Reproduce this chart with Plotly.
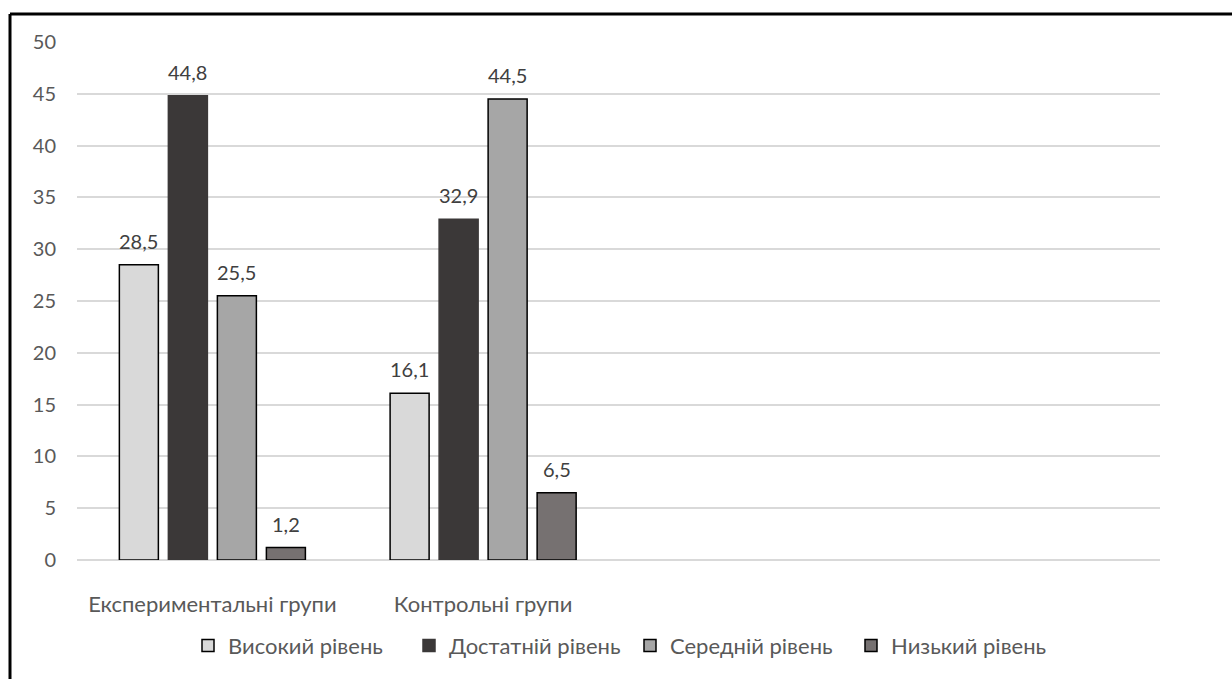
import plotly.graph_objects as go

# Categories (the last two slots are left empty on the axis)
groups = ["Експериментальні групи", "Контрольні групи", "", ""]
levels = ["Високий рівень", "Достатній рівень", "Середній рівень", "Низький рівень"]

high_level = [28.5, 16.1]
sufficient_level = [44.8, 32.9]
medium_level = [25.5, 44.5]
low_level = [1.2, 6.5]

series_values = [high_level, sufficient_level, medium_level, low_level]
fill_colors = ["#d9d9d9", "#3b3838", "#a6a6a6", "#767171"]
edge_colors = ["#000000", "#3b3838", "#000000", "#000000"]

y_ticks = [0, 5, 10, 15, 20, 25, 30, 35, 40, 45, 50]

FONT = "Lato, 'Open Sans', sans-serif"
BAR_GAP = 0.276
GROUP_GAP = 0.204

positions = list(range(len(high_level)))

fig = go.Figure()
for name, vals, fc, ec in zip(levels, series_values, fill_colors, edge_colors):
    fig.add_trace(go.Bar(
        name=name,
        x=positions,
        y=vals,
        marker=dict(color=fc, line=dict(color=ec, width=1.5)),
        hoverinfo="skip",
    ))

# Value labels above each bar, placed at the centre of the bar's slot
n = len(levels)
slot = (1 - BAR_GAP) / n
for i, vals in enumerate(series_values):
    for xi, v in zip(positions, vals):
        fig.add_annotation(
            x=xi + (i - (n - 1) / 2) * slot,
            y=v,
            text=f"{v:.1f}".replace(".", ","),
            showarrow=False,
            yanchor="bottom",
            yshift=10,
            font=dict(family=FONT, size=20, color="#404040"),
        )

# Outer frame of the chart area (top and left edges)
L, R, T, B = 77, 72, 42, 117
W, H = 1232, 679
pw, ph = W - L - R, H - T - B
fx0 = (10 - L) / pw
fy1 = (H - B - 14) / ph
fig.add_shape(type="line", xref="paper", yref="paper",
              x0=fx0, x1=1.2, y0=fy1, y1=fy1,
              line=dict(color="#000000", width=3))
fig.add_shape(type="line", xref="paper", yref="paper",
              x0=fx0, x1=fx0, y0=-0.5, y1=fy1,
              line=dict(color="#000000", width=3))

fig.update_layout(
    width=W,
    height=H,
    margin=dict(l=L, r=R, t=T, b=B, pad=0),
    paper_bgcolor="#ffffff",
    plot_bgcolor="#ffffff",
    barmode="group",
    bargap=BAR_GAP,
    bargroupgap=GROUP_GAP,
    font=dict(family=FONT, size=20, color="#595959"),
    showlegend=True,
    legend=dict(
        orientation="h",
        x=(630 - L) / pw,
        xanchor="center",
        y=(H - B - 648) / ph,
        yanchor="middle",
        font=dict(family=FONT, size=22, color="#595959"),
        entrywidth=176,
        entrywidthmode="pixels",
        itemclick=False,
        itemdoubleclick=False,
        traceorder="normal",
    ),
    xaxis=dict(
        range=[-0.5, 3.5],
        tickmode="array",
        tickvals=list(range(len(groups))),
        ticktext=groups,
        showgrid=False,
        zeroline=False,
        showline=False,
        ticks="",
        ticklabelstandoff=29,
        tickfont=dict(family=FONT, size=22, color="#595959"),
        fixedrange=True,
    ),
    yaxis=dict(
        range=[0, 50],
        tickmode="array",
        tickvals=y_ticks,
        showgrid=True,
        gridcolor="#d9d9d9",
        gridwidth=1.5,
        zeroline=True,
        zerolinecolor="#d9d9d9",
        zerolinewidth=1.5,
        showline=False,
        ticks="",
        ticklabelstandoff=20,
        tickfont=dict(family=FONT, size=20, color="#595959"),
        fixedrange=True,
    ),
)

fig.write_html("out.html", config={"displayModeBar": False})
